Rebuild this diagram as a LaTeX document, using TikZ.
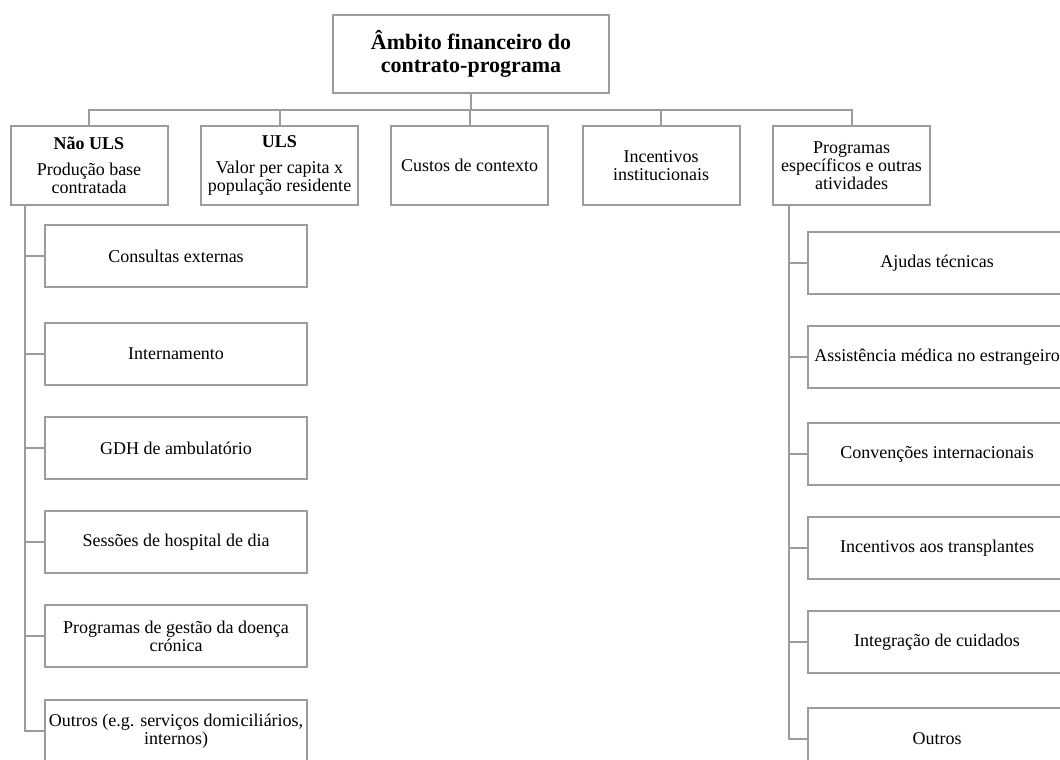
\documentclass[tikz,border=0pt]{standalone}
\usepackage{fontspec}
\setmainfont{Liberation Serif}
\definecolor{lineg}{HTML}{9C9C9C}
\begin{document}
\begin{tikzpicture}[x=0.75pt,y=-0.75pt,
  box/.style={draw=lineg,line width=1.5pt,fill=white,align=center,inner sep=0pt,
    font=\fontsize{13.5}{13.5}\selectfont},
  topbox/.style={box,minimum width=207pt,minimum height=58.5pt,
    font=\fontsize{16.5}{17.25}\selectfont\bfseries},
  lvbox/.style={box,minimum width=117.75pt,minimum height=59.25pt},
  lbox/.style={box,minimum width=196.5pt,minimum height=46.5pt},
  rbox/.style={box,minimum width=193.5pt,minimum height=46.5pt},
  conn/.style={draw=lineg,line width=1.5pt}]
\useasboundingbox (0,0) rectangle (1060,760);
\fill[white] (0,0) rectangle (1060,760);

\node[topbox] (top) at (471,54) {Âmbito financeiro do\\contrato-programa};

\node[lvbox] (n1) at (89,165.5) {\textbf{Não ULS}\\[6pt]Produção base\\contratada};
\node[lvbox] (n2) at (279.5,165.5) {\textbf{ULS}\\[6pt]Valor per capita x\\população residente};
\node[lvbox] (n3) at (469.5,165.5) {Custos de contexto};
\node[lvbox] (n4) at (661,165.5) {Incentivos\\institucionais};
\node[lvbox] (n5) at (851.5,165.5) {Programas\\específicos e outras\\atividades};

\coordinate (bus) at (0,110);
\foreach \n in {n1,n2,n3,n4,n5}
  \draw[conn] (top.south) -- (top.south |- bus) -| (\n.north);

\node[lbox] (l1) at (176,256) {Consultas externas};
\node[lbox] (l2) at (176,354) {Internamento};
\node[lbox] (l3) at (176,448) {GDH de ambulatório};
\node[lbox] (l4) at (176,542) {Sessões de hospital de dia};
\node[lbox] (l5) at (176,636) {Programas de gestão da doença\\crónica};
\node[lbox] (l6) at (176,731) {Outros (e.g. serviços domiciliários,\\internos)};

\node[rbox] (r1) at (937,263) {Ajudas técnicas};
\node[rbox] (r2) at (937,357) {Assistência médica no estrangeiro};
\node[rbox] (r3) at (937,454) {Convenções internacionais};
\node[rbox] (r4) at (937,548) {Incentivos aos transplantes};
\node[rbox] (r5) at (937,642) {Integração de cuidados};
\node[rbox] (r6) at (937,739) {Outros};

\coordinate (lx) at (25,205);
\coordinate (rx) at (789,205);
\draw[conn] (lx |- n1.south) |- (l6.west);
\foreach \c in {l1,l2,l3,l4,l5}
  \draw[conn] (lx |- \c.west) -- (\c.west);
\draw[conn] (rx |- n5.south) |- (r6.west);
\foreach \c in {r1,r2,r3,r4,r5}
  \draw[conn] (rx |- \c.west) -- (\c.west);
\end{tikzpicture}
\end{document}
